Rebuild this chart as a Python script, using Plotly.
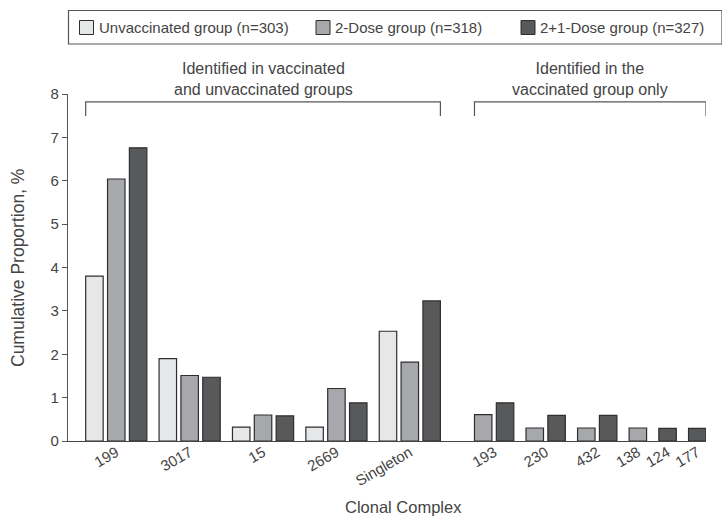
import plotly.graph_objects as go

# ---- data -------------------------------------------------------------
shared_complexes = ["199", "3017", "15", "2669", "Singleton"]
vaccinated_only_complexes = ["193", "230", "432", "138", "124", "177"]
complexes = shared_complexes + vaccinated_only_complexes

series_names = [
    "Unvaccinated group (n=303)",
    "2-Dose group (n=318)",
    "2+1-Dose group (n=327)",
]
unvaccinated = [3.8, 1.9, 0.32, 0.32, 2.53, 0, 0, 0, 0, 0, 0]
two_dose = [6.04, 1.51, 0.6, 1.21, 1.82, 0.61, 0.3, 0.3, 0.3, 0, 0]
two_plus_one = [6.76, 1.47, 0.58, 0.88, 3.23, 0.88, 0.59, 0.59, 0, 0.29, 0.29]

section_labels = [
    "Identified in vaccinated<br>and unvaccinated groups",
    "Identified in the<br>vaccinated group only",
]

y_ticks = [0, 1, 2, 3, 4, 5, 6, 7, 8]

# ---- styling ----------------------------------------------------------
FILLS = ["#e6e7e9", "#a7a8ab", "#58595b"]
OUTLINE = "#2e2e2e"
TEXT = "#444444"
AXIS = "#555555"
FONT = "Liberation Sans, Arial, sans-serif"

BAR_WIDTH = 0.8
CATEGORY_GAP = 0.36   # extra space between clonal complexes
SECTION_GAP = 1.0     # extra space between the two sections

W, H = 722, 519
M_L, M_R, M_T, M_B = 68, 16, 94, 78
PLOT_W = W - M_L - M_R
PLOT_H = H - M_T - M_B


def px_x(px):
    return (px - M_L) / PLOT_W


def px_y(py):
    return (H - M_B - py) / PLOT_H


# ---- bar layout: bars with no isolates are left out -------------------
series_values = [unvaccinated, two_dose, two_plus_one]
bar_x = [[] for _ in series_names]
bar_y = [[] for _ in series_names]
centers = []
section_spans = []

pos = 0.0
idx = 0
for s_i, section in enumerate([shared_complexes, vaccinated_only_complexes]):
    if s_i > 0:
        pos += SECTION_GAP
    first = None
    last = None
    for _cat in section:
        here = []
        for k, vals in enumerate(series_values):
            v = vals[idx]
            if v > 0:
                bar_x[k].append(pos)
                bar_y[k].append(v)
                here.append(pos)
                pos += 1.0
        centers.append(sum(here) / len(here))
        if first is None:
            first = here[0]
        last = here[-1]
        pos += CATEGORY_GAP
        idx += 1
    section_spans.append((first - BAR_WIDTH / 2, last + BAR_WIDTH / 2))

all_x = [x for xs in bar_x for x in xs]
x_range = [min(all_x) - 1.21, max(all_x) + BAR_WIDTH / 2]

fig = go.Figure()
for k, name in enumerate(series_names):
    fig.add_trace(
        go.Bar(
            x=bar_x[k],
            y=bar_y[k],
            name=name,
            width=BAR_WIDTH,
            marker=dict(color=FILLS[k], line=dict(color=OUTLINE, width=1.2)),
            showlegend=False,
        )
    )

shapes = []
annotations = []

# section brackets and their captions
BR_TOP, BR_BOTTOM = 7.82, 7.49
for (x0, x1), label in zip(section_spans, section_labels):
    shapes.append(
        dict(
            type="path",
            xref="x",
            yref="y",
            path=f"M{x0},{BR_BOTTOM} L{x0},{BR_TOP} L{x1},{BR_TOP} L{x1},{BR_BOTTOM}",
            line=dict(color=AXIS, width=1.2),
        )
    )
    annotations.append(
        dict(
            text=label,
            x=(x0 + x1) / 2,
            xref="x",
            y=px_y(79),
            yref="paper",
            xanchor="center",
            yanchor="middle",
            showarrow=False,
            font=dict(size=16, color=TEXT, family=FONT),
        )
    )

# legend box with swatches
shapes.append(
    dict(
        type="rect",
        xref="paper",
        yref="paper",
        x0=px_x(68.5),
        x1=px_x(722),
        y0=px_y(44),
        y1=px_y(10.5),
        line=dict(color=AXIS, width=1.2),
        fillcolor="rgba(0,0,0,0)",
    )
)
legend_swatch_px = [79.5, 316, 521]
for k, name in enumerate(series_names):
    sx = legend_swatch_px[k]
    shapes.append(
        dict(
            type="rect",
            xref="paper",
            yref="paper",
            x0=px_x(sx),
            x1=px_x(sx + 14),
            y0=px_y(34.5),
            y1=px_y(20.5),
            line=dict(color=OUTLINE, width=1),
            fillcolor=FILLS[k],
        )
    )
    annotations.append(
        dict(
            text=name,
            x=px_x(sx + 18),
            xref="paper",
            y=px_y(27.5),
            yref="paper",
            xanchor="left",
            yanchor="middle",
            showarrow=False,
            borderpad=0,
            font=dict(size=15, color=TEXT, family=FONT),
        )
    )

# axis titles
annotations.append(
    dict(
        text="Clonal Complex",
        x=px_x(403),
        y=px_y(507),
        xref="paper",
        yref="paper",
        xanchor="center",
        yanchor="middle",
        showarrow=False,
        borderpad=0,
        font=dict(size=16.5, color=TEXT, family=FONT),
    )
)
annotations.append(
    dict(
        text="Cumulative Proportion, %",
        x=px_x(18),
        y=px_y(268),
        xref="paper",
        yref="paper",
        xanchor="center",
        yanchor="middle",
        textangle=-90,
        showarrow=False,
        font=dict(size=17.5, color=TEXT, family=FONT),
    )
)

fig.update_layout(
    width=W,
    height=H,
    margin=dict(l=M_L, r=M_R, t=M_T, b=M_B),
    paper_bgcolor="white",
    plot_bgcolor="white",
    barmode="overlay",
    font=dict(family=FONT, size=15, color=TEXT),
    shapes=shapes,
    annotations=annotations,
    showlegend=False,
)
fig.update_xaxes(
    range=x_range,
    tickvals=centers,
    ticktext=complexes,
    tickangle=-30,
    ticklabelstandoff=-4,
    tickfont=dict(size=15, color=TEXT),
    showline=True,
    linecolor="#444444",
    linewidth=1.3,
    ticks="",
    showgrid=False,
    zeroline=False,
)
fig.update_yaxes(
    range=[0, 8],
    tickvals=y_ticks,
    ticks="outside",
    ticklen=5,
    tickwidth=1.2,
    tickcolor=AXIS,
    tickfont=dict(size=15, color=TEXT),
    showline=True,
    linecolor=AXIS,
    linewidth=1.2,
    showgrid=False,
    zeroline=False,
)

fig.write_html("out.html")
